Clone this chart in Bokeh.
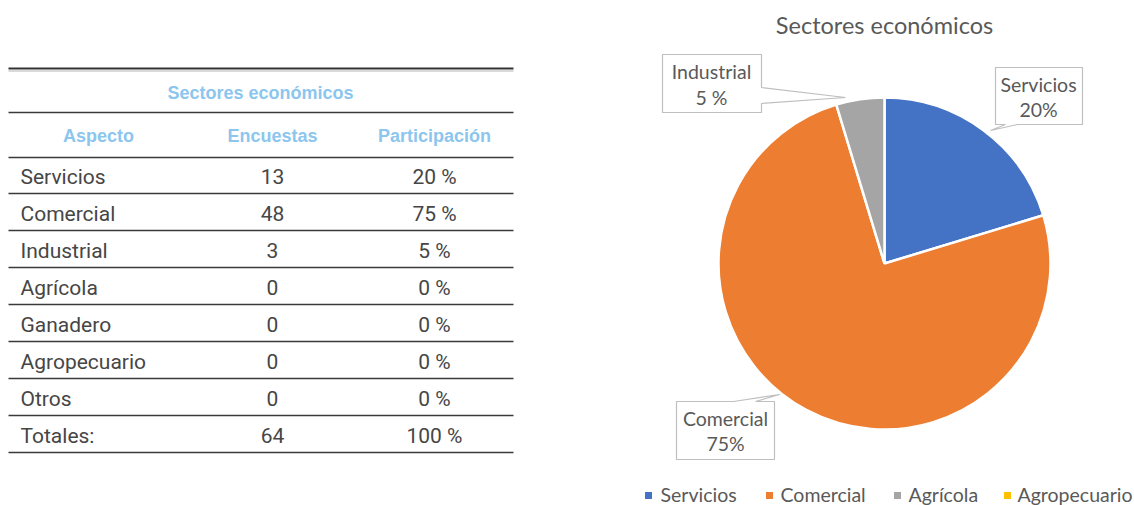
import math
from bokeh.plotting import figure
from bokeh.models import Range1d
from bokeh.embed import file_html
from bokeh.resources import INLINE
from bokeh.core.properties import value

# ---------------- data ----------------
table_title = "Sectores económicos"
col_headers = ["Aspecto", "Encuestas", "Participación"]
aspectos = ["Servicios", "Comercial", "Industrial", "Agrícola", "Ganadero", "Agropecuario", "Otros"]
encuestas = [13, 48, 3, 0, 0, 0, 0]
participacion = ["20 %", "75 %", "5 %", "0 %", "0 %", "0 %", "0 %"]
total_label = "Totales:"
total_encuestas = 64
total_participacion = "100 %"

chart_title = "Sectores económicos"
pie_labels = ["Servicios", "Comercial", "Industrial"]
pie_values = [13, 48, 3]
pie_pct_labels = ["20%", "75%", "5 %"]
pie_colors = ["#4472C4", "#ED7D31", "#A5A5A5"]
legend_labels = ["Servicios", "Comercial", "Agrícola", "Agropecuario"]
legend_colors = ["#4472C4", "#ED7D31", "#A5A5A5", "#FFC000"]

# ---------------- layout ----------------
W, H = 1134, 505


def X(ix):
    return ix


def Y(iy):
    return H - iy


p = figure(width=W, height=H, output_backend="svg", toolbar_location=None,
           x_range=Range1d(0, W), y_range=Range1d(0, H), min_border=0)
p.axis.visible = False
p.grid.visible = False
p.outline_line_color = None
p.background_fill_color = "white"
p.border_fill_color = "white"

# ---------------- table ----------------
tx0, tx1 = X(8), X(513)
p.line([tx0, tx1], [Y(68), Y(68)], line_color="#333333", line_width=1.8)
p.line([tx0, tx1], [Y(70.5), Y(70.5)], line_color="#b5b5b5", line_width=1)
line_ys = [112, 157] + [193 + 37 * i for i in range(8)]
for ly in line_ys:
    p.line([tx0, tx1], [Y(ly), Y(ly)], line_color="#3a3a3a", line_width=1.5)

head_color = "#8CC6EE"
p.text(x=[X(260)], y=[Y(92)], text=[table_title], text_align="center", text_baseline="middle",
       text_font=value("Liberation Sans"), text_font_style="bold", text_font_size="18px",
       text_color=head_color)
col_cx = [98, 272, 434]
p.text(x=[X(c) for c in col_cx], y=[Y(135)] * 3, text=col_headers, text_align="center",
       text_baseline="middle", text_font=value("Liberation Sans"), text_font_style="bold",
       text_font_size="18px", text_color=head_color)

row_names = aspectos + [total_label]
row_counts = [str(v) for v in encuestas] + [str(total_encuestas)]
row_pcts = participacion + [total_participacion]
row_ys = [Y(176 + 37 * i) for i in range(len(row_names))]
body = dict(text_baseline="middle", text_font=value("Roboto"), text_font_size="21px",
            text_color="#464646")
p.text(x=[X(20)] * len(row_names), y=row_ys, text=row_names, text_align="left", **body)
p.text(x=[X(272)] * len(row_names), y=row_ys, text=row_counts, text_align="center", **body)
p.text(x=[X(434)] * len(row_names), y=row_ys, text=row_pcts, text_align="center", **body)

# ---------------- pie ----------------
cx, cy, r = X(884), Y(263), 166
total = sum(pie_values)
cum = 0
for v, col in zip(pie_values, pie_colors):
    a0 = math.pi / 2 - 2 * math.pi * cum / total
    cum += v
    a1 = math.pi / 2 - 2 * math.pi * cum / total
    p.wedge(x=cx, y=cy, radius=r, start_angle=a0, end_angle=a1, direction="clock",
            fill_color=col, line_color="white", line_width=2.5)

p.text(x=[X(884)], y=[Y(24)], text=[chart_title], text_align="center", text_baseline="middle",
       text_font=value("Lato"), text_font_size="23.5px", text_color="#595959")

# callouts (image coordinates of box + pointer)
callouts = [
    [(995, 67), (1082, 67), (1082, 124), (1017, 124), (990, 130), (1005, 124), (995, 124)],
    [(676, 401), (733, 401), (779, 394), (755, 401), (774, 401), (774, 459), (676, 459)],
    [(662, 54), (761, 54), (761, 87), (845, 97), (761, 103), (761, 112), (662, 112)],
]
label_pos = [(1038, 84, 109), (725, 418, 443), (711, 71, 97)]
for poly, (lx, ly1, ly2), name, pct in zip(callouts, label_pos, pie_labels, pie_pct_labels):
    p.patch([X(a) for a, b in poly], [Y(b) for a, b in poly], fill_color="white",
            line_color="#BFBFBF", line_width=1.2)
    p.text(x=[X(lx), X(lx)], y=[Y(ly1), Y(ly2)], text=[name, pct], text_align="center",
           text_baseline="middle", text_font=value("Lato"), text_font_size="19.5px",
           text_color="#595959")

# legend
sq_x = [648, 769, 897, 1007]
tx_x = [660, 780, 908, 1017]
p.rect(x=[X(v) for v in sq_x], y=[Y(495)] * 4, width=7, height=7, fill_color=legend_colors,
       line_color=None)
p.text(x=[X(v) for v in tx_x], y=[Y(494)] * 4, text=legend_labels, text_align="left",
       text_baseline="middle", text_font=value("Lato"), text_font_size="19.5px",
       text_color="#595959")

open("out.html", "w").write(file_html(p, INLINE))
